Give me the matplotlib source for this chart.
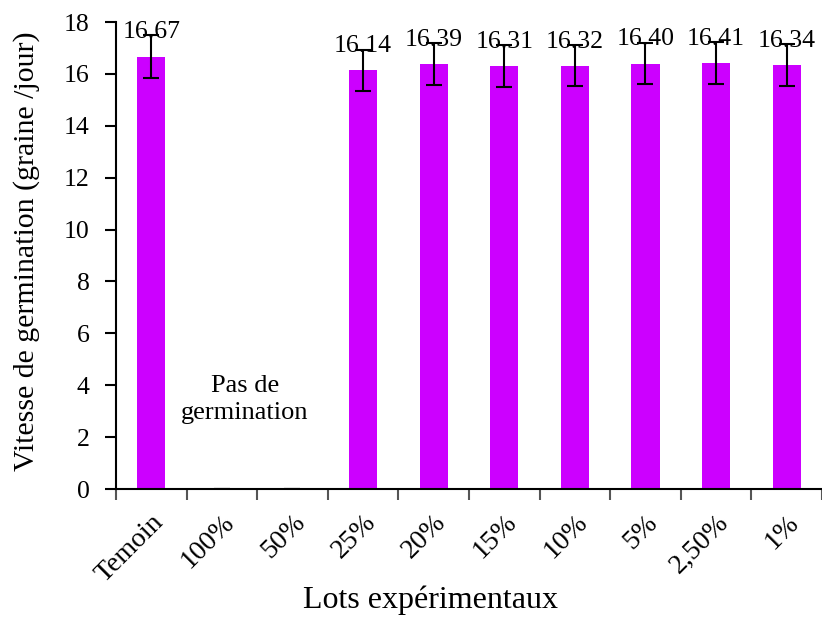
import matplotlib
matplotlib.use('Agg')
import matplotlib.pyplot as plt
import numpy as np

categories = ['Temoin', '100%', '50%', '25%', '20%', '15%', '10%', '5%', '2,50%', '1%']
vitesse = [16.67, 0, 0, 16.14, 16.39, 16.31, 16.32, 16.40, 16.41, 16.34]
erreur = [0.82, 0, 0, 0.8, 0.8, 0.8, 0.8, 0.8, 0.8, 0.8]
etiquettes = ['16.67', '', '', '16.14', '16.39', '16.31', '16.32', '16.40', '16.41', '16.34']

plt.rcParams['font.family'] = ['Liberation Serif', 'DejaVu Serif']

fig = plt.figure(figsize=(8.22, 6.18), dpi=100)
ax = fig.add_axes([0.141, 0.2087, 0.859, 0.7557])

x = np.arange(len(categories))
ax.bar(x, vitesse, width=0.4, color='#CC00FF', zorder=2)
ax.errorbar(x, vitesse, yerr=erreur, fmt='none', ecolor='black',
            elinewidth=1.5, capsize=6, capthick=1.5, zorder=3)

# valeurs au-dessus des barres
for xi, v, lab in zip(x, vitesse, etiquettes):
    if lab:
        ax.annotate(lab, (xi, v), xytext=(0, 13), textcoords='offset points',
                    ha='center', va='baseline', fontsize=18.5)

ax.text(1.33, 3.45, 'Pas de\ngermination', ha='center', va='center', fontsize=19, linespacing=1.3)

ax.set_xlim(-0.5, len(categories) - 0.5)
ax.set_ylim(0, 18)
ax.set_yticks(np.arange(0, 19, 2))
ax.tick_params(axis='y', direction='out', length=8, width=1.5, labelsize=18.5, pad=11)

ax.set_xticks(x)
ax.set_xticklabels(categories, rotation=45, ha='right', rotation_mode='anchor', fontsize=20)
ax.tick_params(axis='x', which='major', length=0, pad=15)
ax.set_xticks(np.arange(-0.5, len(categories), 1), minor=True)
ax.tick_params(axis='x', which='minor', length=8, width=1.5, color='#555555')

for s in ['top', 'right']:
    ax.spines[s].set_visible(False)
ax.spines['left'].set_linewidth(1.5)
ax.spines['bottom'].set_linewidth(1.5)

ax.set_ylabel('Vitesse de germination (graine /jour)', fontsize=21.5, va='center')
ax.yaxis.set_label_coords(-0.126, 0.51)
ax.set_xlabel('Lots expérimentaux', fontsize=23, va='center')
ax.xaxis.set_label_coords(0.445, -0.238)

fig.savefig('out.png', dpi=100)
